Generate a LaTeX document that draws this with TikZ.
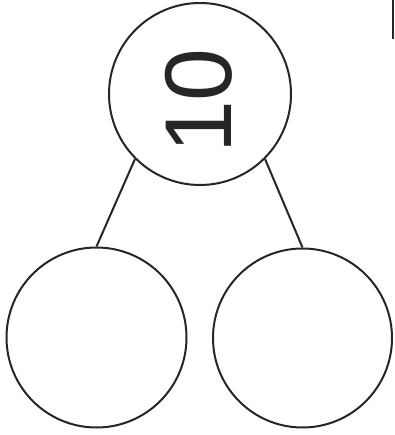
\documentclass[tikz,border=0pt]{standalone}
\usepackage{fontspec}
\setmainfont{Liberation Sans}
\begin{document}
\begin{tikzpicture}[x=1pt,y=-1pt,
  bubble/.style={draw=black!85, line width=2pt, circle, inner sep=0pt},
  link/.style={draw=black!85, line width=2pt}]
\useasboundingbox (0,0) rectangle (394,435);
\node[bubble, minimum size=182pt] (top) at (200,94) {};
\node[bubble, minimum size=180pt] (left) at (96.5,337.5) {};
\node[bubble, minimum size=179pt] (right) at (302.5,338) {};
\node[rotate=90, inner sep=0pt, text=black!85, font=\fontsize{95}{95}\selectfont] (ten) at (199,101) {10};
\draw[link] (top.225) -- (left.north);
\draw[link] (top.315) -- (right.north);
\draw[black!85, line width=1.5pt] (393,0) -- (393,39);
\end{tikzpicture}
\end{document}
